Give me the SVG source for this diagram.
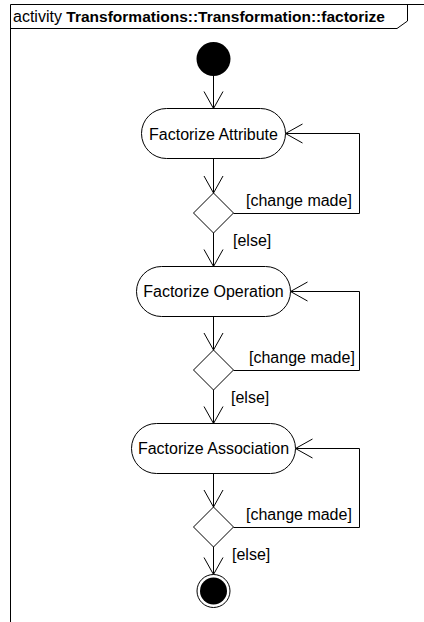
<svg xmlns="http://www.w3.org/2000/svg" width="424" height="622" viewBox="0 0 424 622">
  <style>
    .frame { fill: none; stroke: #000; stroke-width: 1; }
    .action { fill: #fff; stroke: #000; stroke-width: 1; }
    .decision { fill: #fff; stroke: #000; stroke-width: 1; }
    .flow { fill: none; stroke: #000; stroke-width: 1; marker-end: url(#open-arrow); }
    .label { font-family: "Liberation Sans", Arial, sans-serif; font-size: 16px; fill: #000; }
    .node-text { text-anchor: middle; }
    .title { font-family: "Liberation Sans", Arial, sans-serif; font-size: 16px; fill: #000; }
    .title-name { font-weight: bold; font-size: 15.5px; }
  </style>
  <defs>
    <marker id="open-arrow" viewBox="-18 -11 20 22" refX="0" refY="0" markerWidth="20" markerHeight="22" markerUnits="userSpaceOnUse" orient="auto">
      <path d="M-17,-9.5 L0,0 L-17,9.5" fill="none" stroke="#000" stroke-width="1"/>
    </marker>
  </defs>

  <rect width="424" height="622" fill="#fff"/>

  <!-- activity frame with its name tab -->
  <g id="frame">
    <path class="frame" d="M10.5 622 V4.5 H430"/>
    <path class="frame" d="M10.5 28.5 H397 L407.5 21 V4.5"/>
    <text class="title" x="13" y="22">activity <tspan class="title-name">Transformations::Transformation::factorize</tspan></text>
  </g>

  <!-- control flows -->
  <g id="connectors">
    <path class="flow" d="M213.5 76 V108.5"/>
    <path class="flow" d="M213.5 158.5 V193"/>
    <path class="flow" d="M213.5 233 V266.5"/>
    <path class="flow" d="M213.5 316.5 V350"/>
    <path class="flow" d="M213.5 390 V423.5"/>
    <path class="flow" d="M213.5 473.5 V507"/>
    <path class="flow" d="M213.5 547 V574.5"/>
    <path class="flow" d="M233.5 213.5 H359.5 V133.5 H285.5"/>
    <path class="flow" d="M233.5 370.5 H359.5 V291.5 H290.5"/>
    <path class="flow" d="M233.5 527.5 H359.5 V448.5 H295.5"/>
    <text class="label" x="246" y="206">[change made]</text>
    <text class="label" x="233" y="246">[else]</text>
    <text class="label" x="249" y="363">[change made]</text>
    <text class="label" x="231" y="403">[else]</text>
    <text class="label" x="246" y="520">[change made]</text>
    <text class="label" x="232" y="560">[else]</text>
  </g>

  <g id="initial">
    <circle cx="213.5" cy="59" r="17" fill="#000"/>
  </g>

  <g id="factorize-attribute">
    <rect class="action" x="141.5" y="108.5" width="144" height="50" rx="25" ry="25"/>
    <text class="label node-text" x="213.5" y="139.5">Factorize Attribute</text>
  </g>

  <g id="decision-attribute">
    <polygon class="decision" points="213.5,193 233.5,213 213.5,233 193.5,213"/>
  </g>

  <g id="factorize-operation">
    <rect class="action" x="136.5" y="266.5" width="154" height="50" rx="25" ry="25"/>
    <text class="label node-text" x="213.5" y="297">Factorize Operation</text>
  </g>

  <g id="decision-operation">
    <polygon class="decision" points="213.5,350 233.5,370 213.5,390 193.5,370"/>
  </g>

  <g id="factorize-association">
    <rect class="action" x="131.5" y="423.5" width="164" height="50" rx="25" ry="25"/>
    <text class="label node-text" x="213.5" y="454">Factorize Association</text>
  </g>

  <g id="decision-association">
    <polygon class="decision" points="213.5,507 233.5,527 213.5,547 193.5,527"/>
  </g>

  <g id="final">
    <circle cx="213.5" cy="591" r="16.5" fill="#fff" stroke="#000" stroke-width="1"/>
    <circle cx="213.5" cy="591" r="13.5" fill="#000"/>
  </g>
</svg>
